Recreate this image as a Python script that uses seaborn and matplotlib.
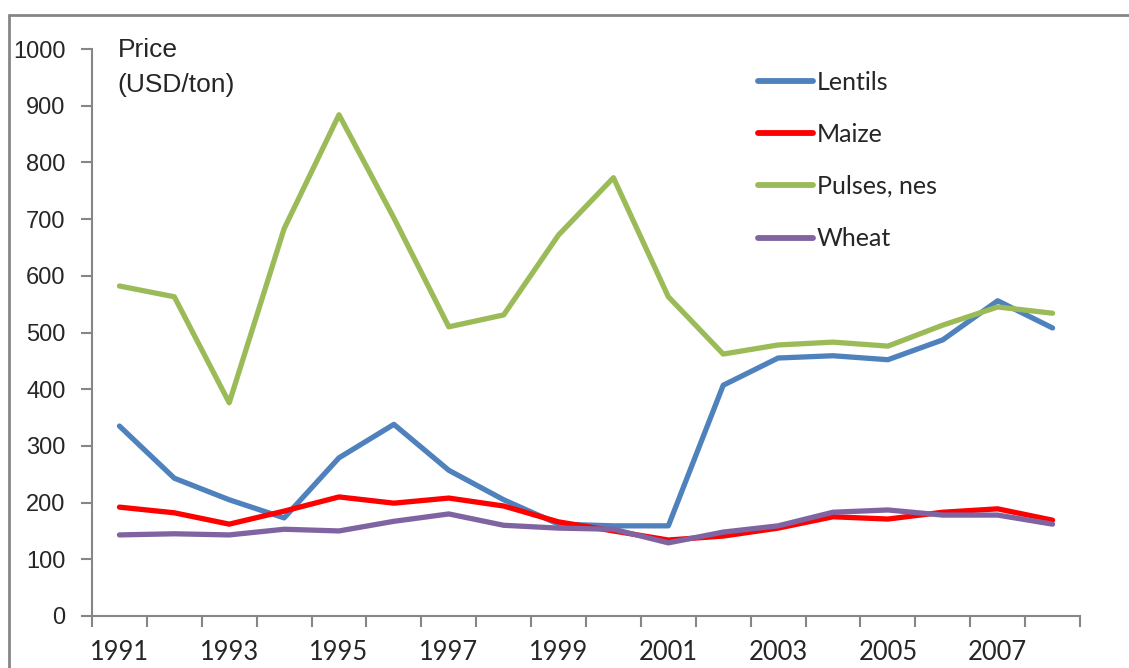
import numpy as np
import pandas as pd
import matplotlib
matplotlib.use("Agg")
import matplotlib.pyplot as plt
import seaborn as sns
from matplotlib.lines import Line2D

years = list(range(1991, 2009))
lentils = [335, 243, 205, 173, 279, 338, 257, 205, 162, 159, 159, 407, 455, 459, 452, 487, 556, 508]
maize = [192, 182, 162, 185, 210, 199, 208, 194, 166, 150, 134, 141, 155, 175, 171, 183, 189, 169]
pulses = [582, 563, 376, 683, 884, 702, 510, 531, 672, 773, 563, 462, 478, 483, 476, 513, 545, 534]
wheat = [143, 145, 143, 153, 150, 167, 180, 160, 155, 153, 129, 148, 159, 183, 187, 178, 178, 162]
crops = ["Lentils", "Maize", "Pulses, nes", "Wheat"]
colors = {"Lentils": "#4F81BD", "Maize": "#FF0000", "Pulses, nes": "#9BBB59", "Wheat": "#8064A2"}

df = pd.DataFrame({"Year": years, "Lentils": lentils, "Maize": maize,
                   "Pulses, nes": pulses, "Wheat": wheat})
long = df.melt(id_vars="Year", var_name="Crop", value_name="Price")

sns.set_style("white")
plt.rcParams["font.family"] = ["Liberation Sans", "DejaVu Sans"]

fig = plt.figure(figsize=(11.29, 6.68), dpi=100)
ax = fig.add_axes([92 / 1129, 1 - 616 / 668, 988 / 1129, 567 / 668])

sns.lineplot(data=long, x="Year", y="Price", hue="Crop", hue_order=crops,
             palette=colors, linewidth=3.8, ax=ax,
             solid_joinstyle="round", solid_capstyle="round")

ax.set_xlim(1990.5, 2008.5)
ax.set_ylim(0, 1000)
ax.set_yticks(range(0, 1001, 100))
ax.tick_params(axis="y", direction="out", length=8, width=1.5, color="#868686",
               labelsize=17, pad=11, left=True)
for lab in ax.get_yticklabels():
    lab.set_fontfamily("Liberation Sans")

# ticks between categories, labels on every other year
ax.set_xticks(np.arange(1990.5, 2009, 1.0))
ax.set_xticklabels([])
ax.tick_params(axis="x", which="major", direction="out", length=8, width=1.5,
               color="#868686", bottom=True)
ax.set_xticks(years[::2][:9], minor=True)
ax.set_xticklabels([str(y) for y in years[::2][:9]], minor=True)
ax.tick_params(axis="x", which="minor", length=0, labelsize=18.4, pad=17)
for lab in ax.get_xticklabels(minor=True):
    lab.set_fontfamily("Lato")

ax.set_xlabel("")
ax.set_ylabel("")
sns.despine(ax=ax)
for s in ("left", "bottom"):
    ax.spines[s].set_color("#868686")
    ax.spines[s].set_linewidth(1.5)

ax.text(0.026, 1.02, "Price\n(USD/ton)", transform=ax.transAxes, ha="left", va="top",
        fontsize=19, fontfamily="Liberation Sans", linespacing=1.6)

leg = ax.legend(loc="upper left", bbox_to_anchor=(0.674, 0.962), frameon=False,
                borderpad=0, borderaxespad=0, handlelength=2.2, handletextpad=0.15,
                labelspacing=1.17, prop={"family": "Lato", "size": 18})
for h in leg.get_lines():
    h.set_linewidth(4.2)
    h.set_solid_capstyle("round")

# outer chart frame (cropped on right and bottom)
fig.add_artist(Line2D([9 / 1129, 9 / 1129], [-0.1, 1 - 15 / 668], transform=fig.transFigure,
                      color="#868686", linewidth=2))
fig.add_artist(Line2D([9 / 1129, 1.1], [1 - 15 / 668, 1 - 15 / 668], transform=fig.transFigure,
                      color="#868686", linewidth=2))

fig.savefig("out.png", dpi=100)
